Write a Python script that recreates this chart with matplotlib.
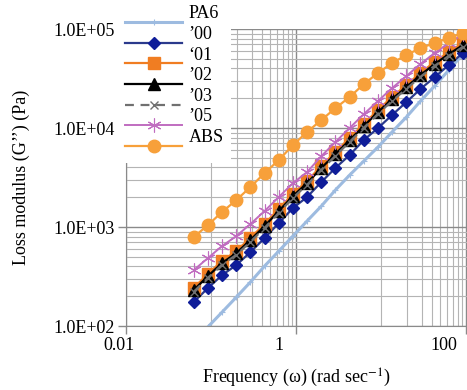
import matplotlib
matplotlib.use("Agg")
import matplotlib.pyplot as plt
from matplotlib.ticker import FixedLocator, FuncFormatter, NullFormatter
from matplotlib.transforms import ScaledTranslation

plt.rcParams['font.family'] = ['Liberation Serif', 'DejaVu Serif']
plt.rcParams['mathtext.fontset'] = 'stix'
plt.rcParams['font.size'] = 13

# frequency sweep (rad/s)
freq = [0.0628, 0.0922, 0.135, 0.199, 0.291, 0.428, 0.628, 0.922, 1.35, 1.99,
        2.91, 4.28, 6.28, 9.22, 13.5, 19.9, 29.1, 42.8, 62.8, 92.2]

# loss modulus G'' (Pa)
g_pa6 = [69, 98, 138, 196, 278, 404, 572, 811, 1150, 1630,
         2365, 3350, 4640, 6430, 9120, 12900, 18700, 26600, 38500, 55800]
g_00 = [175, 242, 327, 413, 558, 774, 1097, 1555, 2010, 2850,
        3947, 5340, 7560, 10000, 13530, 18300, 24770, 32700, 43300, 57300]
g_01 = [243, 336, 455, 573, 776, 1074, 1525, 2160, 2920, 4140,
        5730, 7940, 11000, 15200, 20600, 27200, 36000, 46500, 58600, 72300]
g_02 = [231, 320, 433, 546, 739, 1023, 1452, 2056, 2780, 3947,
        5460, 7560, 10480, 14500, 19630, 25950, 34300, 44300, 55800, 68900]
g_03 = [222, 307, 416, 524, 709, 982, 1394, 1974, 2670, 3790,
        5240, 7260, 10060, 13900, 18800, 24900, 32900, 42500, 53600, 66100]
g_05 = [368, 486, 643, 811, 1072, 1452, 2010, 2780, 3590, 5210,
        7220, 10000, 13840, 18740, 25350, 33500, 44300, 57200, 72200, 88900]
g_abs = [793, 1047, 1419, 1875, 2535, 3510, 4750, 6735, 9120, 12050,
         15900, 20560, 27800, 35930, 45400, 54600, 64200, 72200, 81100, 91200]

labels = ["PA6", "\u201900", "\u201801", "\u201902", "\u201903", "\u201905", "ABS"]

fig = plt.figure(figsize=(4.67, 3.90), dpi=100)
ax = fig.add_axes([0.2698, 0.1641, 0.7302, 0.7615])

ax.plot(freq, g_pa6, color='#9dbbe0', lw=2.2, marker='+', ms=4, mew=0.8, label=labels[0])
ax.plot(freq, g_00, color='#2b3a8c', lw=1.6, marker='D', ms=6.5, mfc='#0f1d99', mec='#0f1d99', label=labels[1])
ax.plot(freq, g_01, color='#f07d22', lw=1.6, marker='s', ms=8, mfc='#f07d22', mec='#f07d22', label=labels[2])
ax.plot(freq, g_02, color='black', lw=1.6, marker='^', ms=9, label=labels[3])
ax.plot(freq, g_03, color='#707070', lw=1.6, ls=(0, (4, 3)), marker='x', ms=6, mew=1.0, label=labels[4])
ax.plot(freq, g_05, color='#c06cc0', lw=1.4, marker=(6, 2, 0), ms=10, mew=0.8, label=labels[5])
ax.plot(freq, g_abs, color='#f7a03a', lw=1.6, marker='o', ms=9, mfc='#f7a03a', mec='#f7a03a', label=labels[6])

ax.set_xscale('log')
ax.set_yscale('log')
ax.set_xlim(0.01, 102.7)
ax.set_ylim(100, 1e5)

ax.xaxis.set_major_locator(FixedLocator([0.01, 1, 100]))
ax.xaxis.set_major_formatter(FuncFormatter(lambda v, p: '%g' % v))
ax.xaxis.set_minor_locator(FixedLocator([0.1, 0.2, 0.3, 0.4, 0.5, 0.6, 0.7, 0.8, 0.9,
                                         10, 20, 30, 40, 50, 60, 70, 80, 90]))
ax.xaxis.set_minor_formatter(NullFormatter())
ax.yaxis.set_major_locator(FixedLocator([1e2, 1e3, 1e4, 1e5]))
ax.yaxis.set_major_formatter(FuncFormatter(lambda v, p: '%.1E' % v))
ax.yaxis.set_minor_locator(FixedLocator([m * 10 ** e for e in (2, 3, 4) for m in range(2, 10)]))
ax.yaxis.set_minor_formatter(NullFormatter())

ax.grid(True, which='major', color='#8a8a8a', lw=1.0)
ax.grid(True, which='minor', color='#b4b4b4', lw=0.8)
ax.set_axisbelow(True)
ax.tick_params(which='major', direction='out', length=6, color='#8a8a8a', width=1.0, pad=2)
ax.tick_params(which='minor', length=0)
for s in ('top', 'right'):
    ax.spines[s].set_visible(False)
for s in ('left', 'bottom'):
    ax.spines[s].set_color('#8a8a8a')

# tick labels in the original sit a little left of their ticks
for lab, dx in zip(ax.get_xticklabels(), [-7, -17, -22]):
    lab.set_transform(lab.get_transform() + ScaledTranslation(dx / 100, 0, fig.dpi_scale_trans))

ax.set_xlabel('Frequency (\u03c9) (rad sec$^{-1}$)', labelpad=9)
ax.set_ylabel('Loss modulus (G\u2019\u2019) (Pa)', labelpad=17)

leg = fig.legend(loc='upper left', bbox_to_anchor=(118 / 467, 0.979), frameon=True,
                 fancybox=False, edgecolor='none', facecolor='white', framealpha=1,
                 borderpad=0.4, borderaxespad=0, handlelength=3.15, handletextpad=0.35,
                 labelspacing=0.2, fontsize=13)
for t in leg.get_texts():
    t.set_position((0, 10))

fig.savefig('out.png', dpi=100)
